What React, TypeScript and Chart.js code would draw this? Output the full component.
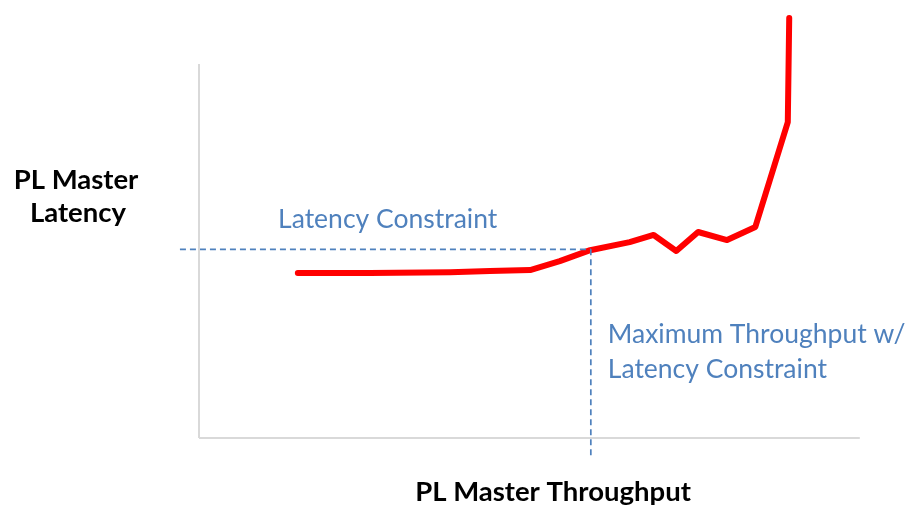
import React, { useEffect, useRef } from "react";
import { Chart, registerables } from "chart.js";

Chart.register(...registerables);

// Throughput (x) and latency (y) in arbitrary units
const curveX = [14.0, 24.2, 35.6, 41.2, 46.9, 51.1, 55.4, 61.0, 64.4, 67.6, 70.7, 74.8, 78.8, 83.4, 83.6];
const curveY = [39.0, 39.0, 39.2, 39.5, 39.7, 41.8, 44.4, 46.3, 48.0, 44.2, 48.7, 46.8, 49.9, 74.7, 99.3];

const latencyConstraint = 44.6;
const maxThroughput = 55.5;

const axisXEnd = 93.6;
const axisYEnd = 88.4;

const labelLatency = ["Latency Constraint"];
const labelMax = ["Maximum Throughput w/", "Latency Constraint"];
const yTitle = ["PL Master", "Latency"];
const xTitle = "PL Master Throughput";

const BLUE = "#4F81BD";

export default function App() {
  const ref = useRef<HTMLCanvasElement | null>(null);

  useEffect(() => {
    if (!ref.current) return;

    const textPlugin = {
      id: "texts",
      afterDatasetsDraw(chart: any) {
        const { ctx, scales } = chart;
        const xs = scales.x;
        const ys = scales.y;
        ctx.save();
        ctx.textBaseline = "alphabetic";
        ctx.textAlign = "left";
        ctx.fillStyle = BLUE;
        ctx.font = "26.5px Lato";
        ctx.fillText(labelLatency[0], xs.getPixelForValue(11.2), ys.getPixelForValue(49.6));
        ctx.fillText(labelMax[0], xs.getPixelForValue(57.9), ys.getPixelForValue(22.5));
        ctx.fillText(labelMax[1], xs.getPixelForValue(57.9), ys.getPixelForValue(14.2));

        ctx.fillStyle = "#000000";
        ctx.font = "bold 27.5px Lato";
        ctx.textAlign = "center";
        ctx.fillText(yTitle[0], 76, 189);
        ctx.fillText(yTitle[1], 78, 222);
        ctx.fillText(xTitle, 553, 501);
        ctx.restore();
      },
    };

    const chart = new Chart(ref.current, {
      type: "scatter",
      data: {
        datasets: [
          {
            data: [
              { x: 0, y: 0 },
              { x: 0, y: axisYEnd },
            ],
            showLine: true,
            borderColor: "#D9D9D9",
            borderWidth: 2,
            pointRadius: 0,
            clip: false,
          } as any,
          {
            data: [
              { x: 0, y: 0 },
              { x: axisXEnd, y: 0 },
            ],
            showLine: true,
            borderColor: "#D9D9D9",
            borderWidth: 2,
            pointRadius: 0,
            clip: false,
          },
          {
            data: [
              { x: -2.7, y: latencyConstraint },
              { x: maxThroughput, y: latencyConstraint },
            ],
            showLine: true,
            borderColor: BLUE,
            borderWidth: 1.7,
            borderDash: [6, 4],
            pointRadius: 0,
            clip: false,
          },
          {
            data: [
              { x: maxThroughput, y: latencyConstraint },
              { x: maxThroughput, y: -4.7 },
            ],
            showLine: true,
            borderColor: BLUE,
            borderWidth: 1.7,
            borderDash: [6, 4],
            pointRadius: 0,
            clip: false,
          },
          {
            data: curveX.map((x, i) => ({ x, y: curveY[i] })),
            showLine: true,
            borderColor: "#FF0000",
            borderWidth: 6,
            borderCapStyle: "round",
            borderJoinStyle: "round",
            pointRadius: 0,
            tension: 0,
            clip: false,
          },
        ],
      },
      options: {
        responsive: false,
        animation: false,
        events: [],
        layout: { padding: { left: 199, right: 19, top: 15, bottom: 68 } },
        scales: {
          x: { type: "linear", min: 0, max: 100, display: false },
          y: { type: "linear", min: 0, max: 100, display: false },
        },
        plugins: { legend: { display: false }, tooltip: { enabled: false } },
      },
      plugins: [textPlugin],
    });

    return () => chart.destroy();
  }, []);

  return (
    <div style={{ position: "absolute", left: 0, top: 0, width: 924, height: 506, background: "#fff" }}>
      <canvas ref={ref} width={924} height={506} />
    </div>
  );
}
